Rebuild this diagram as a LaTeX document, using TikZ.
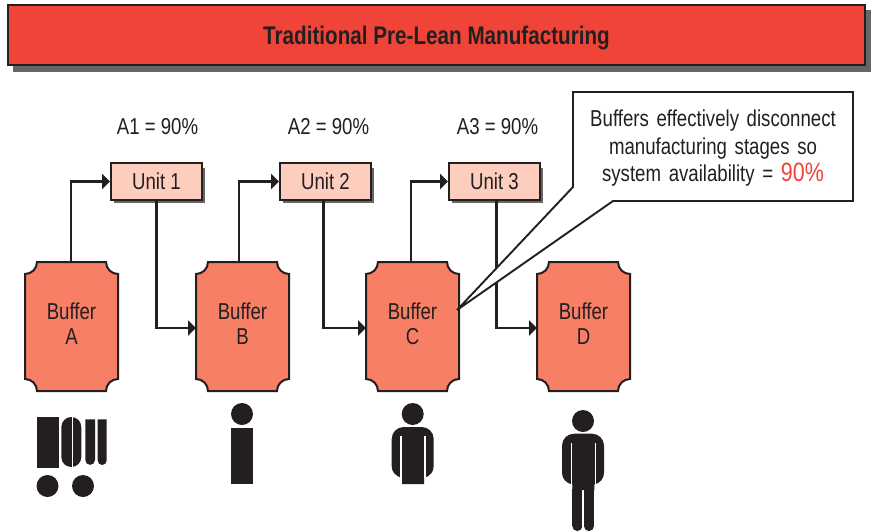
\documentclass[tikz,border=0pt]{standalone}
\usepackage{fontspec}
\setmainfont[FakeStretch=0.81]{Liberation Sans}
\usetikzlibrary{arrows.meta}
\definecolor{ink}{HTML}{231F20}
\definecolor{hdr}{HTML}{F04438}
\definecolor{buf}{HTML}{F67F65}
\definecolor{unitc}{HTML}{FDCDBD}
\definecolor{shad}{HTML}{666666}
\tikzset{
  x=1pt,y=-1pt,
  lbl/.style={font=\fontsize{23}{27}\selectfont,text=ink,inner sep=0pt,align=center},
  unitbox/.style={draw=ink,line width=2pt,fill=unitc,minimum width=91pt,minimum height=37pt,inner sep=0pt,font=\fontsize{23}{27}\selectfont,text=ink},
  conn/.style={draw=ink,line width=2.4pt,-{Triangle[length=8pt,width=15pt]}},
  bufshape/.style={draw=ink,line width=2pt,fill=buf},
  icon/.style={fill=ink,draw=none}
}
\newcommand{\bufferat}[3]{%
  \path[bufshape] (#1-46.5,274) arc[start angle=90,end angle=0,radius=12] -- (#1+34.5,262) arc[start angle=180,end angle=90,radius=12]
   -- (#1+46.5,379) arc[start angle=270,end angle=180,radius=12] -- (#1-34.5,391) arc[start angle=0,end angle=-90,radius=12] -- cycle;
  \node[lbl,text width=80pt] (#2) at (#1,323.5) {Buffer\\[-2pt]#3};
  \coordinate (#2-top) at (#1,262);
  \coordinate (#2-left) at (#1-46.5,328);
}
\newcommand{\unitat}[3]{%
  \fill[shad] (#1-42.5,168) rectangle (#1+48.5,203);
  \node[unitbox] (#2) at (#1,181.5) {#3};
}
\begin{document}
\begin{tikzpicture}
\useasboundingbox (0,0) rectangle (875,531);
\fill[white] (0,0) rectangle (875,531);
% header
\fill[shad] (13,10) rectangle (871,71.5);
\node[draw=ink,line width=2pt,fill=hdr,minimum width=857pt,minimum height=60pt,inner sep=0pt,text=ink,font=\bfseries\fontsize{25.5}{29}\selectfont] (head) at (436.5,35) {\raisebox{-9pt}[0pt][0pt]{Traditional Pre-Lean Manufacturing}};
% buffers
\bufferat{71.5}{bA}{A}
\bufferat{242.5}{bB}{B}
\bufferat{412.5}{bC}{C}
\bufferat{583.5}{bD}{D}
% units
\unitat{156.5}{uA}{Unit 1}
\unitat{325.5}{uB}{Unit 2}
\unitat{494.5}{uC}{Unit 3}
% labels
\node[lbl] (a1) at (157.5,127) {A1 = 90\%};
\node[lbl] (a2) at (328.5,127) {A2 = 90\%};
\node[lbl] (a3) at (497.5,127) {A3 = 90\%};
% connectors
\draw[conn] ([xshift=-0.5pt]bA-top) |- (uA.west);
\draw[conn] ([xshift=-3.5pt]bB-top) |- (uB.west);
\draw[conn] ([xshift=-1.5pt]bC-top) |- (uC.west);
\draw[conn] (uA.south) |- (bB-left);
\draw[conn] ([xshift=-2pt]uB.south) |- (bC-left);
\draw[conn] ([xshift=2pt]uC.south) |- (bD-left);
% callout
\path[draw=ink,line width=1.9pt,fill=white,line join=miter,miter limit=2] (573,92) -- (853,92) -- (853,201) -- (613,201) -- (457,310) -- (573,187) -- cycle;
\node[lbl,text width=270pt] (note) at (713,148.5) {Buffers effectively disconnect\\[0.5pt]manufacturing stages so\\[0.5pt]system availability = {\fontsize{26.5}{26}\selectfont\color{hdr}90\%}};
% machine icon
\fill[icon] (37,417) rectangle (59,468);
\fill[icon] (61.3,427) arc[start angle=180,end angle=360,radius=10] -- (81.3,457) arc[start angle=0,end angle=180,radius=10] -- cycle;
\fill[white] (72,415) rectangle (73.4,470);
\fill[icon] (85.3,419.3) -- (95,419.3) -- (95,460) arc[start angle=0,end angle=180,radius=4.85] -- cycle;
\fill[icon] (97.7,419.3) -- (106.7,419.3) -- (106.7,460.5) arc[start angle=0,end angle=180,radius=4.5] -- cycle;
\fill[icon] (47.5,486) circle[radius=11];
\fill[icon] (83,486) circle[radius=11];
% person 1
\fill[icon] (242,414) circle[radius=11];
\fill[icon] (231,428) rectangle (253,484);
% person 2
\fill[icon] (412.7,414) circle[radius=11];
\fill[icon] (391.7,439) arc[start angle=180,end angle=270,radius=12] -- (421.7,427) arc[start angle=270,end angle=360,radius=12] -- (433.7,466) .. controls (433.7,472) and (430,476) .. (424,478) -- (424,484) -- (402,484) -- (402,478) .. controls (395.4,476) and (391.7,472) .. (391.7,466) -- cycle;
\fill[white] (400.2,436) rectangle (401.6,478);
\fill[white] (424.4,436) rectangle (425.8,478);
% person 3
\fill[icon] (583,421) circle[radius=11];
\fill[icon] (562,445.7) arc[start angle=180,end angle=270,radius=12] -- (592,433.7) arc[start angle=270,end angle=360,radius=12] -- (604,472.7) .. controls (604,478.7) and (600.3,482.7) .. (594.3,484.7) -- (594.3,490) -- (572.3,490) -- (572.3,484.7) .. controls (565.7,482.7) and (562,478.7) .. (562,472.7) -- cycle;
\fill[white] (570.5,442.7) rectangle (571.9,484.7);
\fill[white] (594.7,442.7) rectangle (596.1,484.7);
\fill[icon] (572.3,489) rectangle (582.4,526);
\fill[icon] (582.4,526) arc[start angle=0,end angle=180,radius=5.05];
\fill[icon] (583.9,489) rectangle (594,526);
\fill[icon] (594,526) arc[start angle=0,end angle=180,radius=5.05];
\end{tikzpicture}
\end{document}
